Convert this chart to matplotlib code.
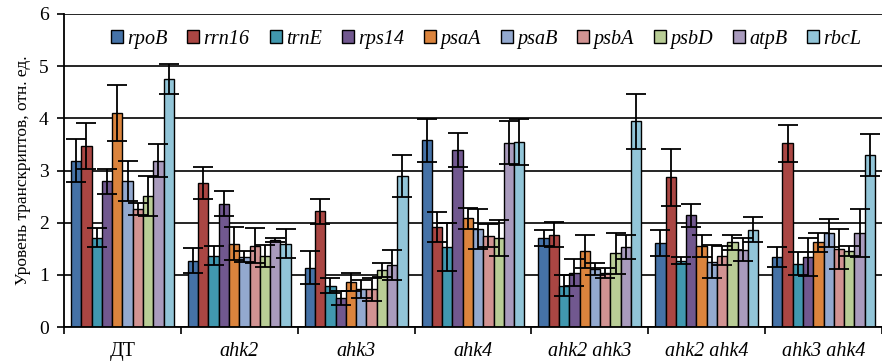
import numpy as np
import matplotlib
matplotlib.use('Agg')
import matplotlib.pyplot as plt
from matplotlib.ticker import FixedLocator

plt.rcParams['font.family'] = ['Liberation Serif', 'DejaVu Serif']

groups = ['ДТ', 'ahk2', 'ahk3', 'ahk4', 'ahk2 ahk3', 'ahk2 ahk4', 'ahk3 ahk4']
genes = ['rpoB', 'rrn16', 'trnE', 'rps14', 'psaA', 'psaB', 'psbA', 'psbD', 'atpB', 'rbcL']
colors = ['#4572A7', '#AA4643', '#4198AF', '#71588F', '#DB843D',
          '#93A9CF', '#D19392', '#B9CD96', '#A99BBD', '#92C5D8']

# mean level per gene (rows) for each line (columns)
rpoB  = [3.19, 1.27, 1.14, 3.58, 1.71, 1.61, 1.34]
rrn16 = [3.47, 2.76, 2.22, 1.92, 1.77, 2.87, 3.52]
trnE  = [1.71, 1.37, 0.79, 1.53, 0.79, 1.27, 1.21]
rps14 = [2.79, 2.36, 0.56, 3.39, 1.04, 2.14, 1.34]
psaA  = [4.10, 1.60, 0.86, 2.08, 1.45, 1.55, 1.62]
psaB  = [2.80, 1.35, 0.73, 1.88, 1.11, 1.25, 1.80]
psbA  = [2.26, 1.56, 0.72, 1.75, 1.04, 1.37, 1.50]
psbD  = [2.51, 1.36, 1.09, 1.71, 1.41, 1.62, 1.46]
atpB  = [3.19, 1.67, 1.19, 3.53, 1.54, 1.48, 1.81]
rbcL  = [4.75, 1.60, 2.89, 3.54, 3.94, 1.86, 3.30]

# standard errors
rpoB_err  = [0.41, 0.24, 0.32, 0.41, 0.15, 0.24, 0.19]
rrn16_err = [0.45, 0.30, 0.24, 0.29, 0.24, 0.55, 0.36]
trnE_err  = [0.18, 0.19, 0.14, 0.46, 0.20, 0.07, 0.22]
rps14_err = [0.24, 0.24, 0.13, 0.33, 0.26, 0.22, 0.36]
psaA_err  = [0.53, 0.31, 0.17, 0.21, 0.31, 0.21, 0.18]
psaB_err  = [0.38, 0.10, 0.17, 0.38, 0.12, 0.32, 0.27]
psbA_err  = [0.12, 0.34, 0.22, 0.22, 0.10, 0.18, 0.38]
psbD_err  = [0.39, 0.21, 0.13, 0.35, 0.39, 0.15, 0.10]
atpB_err  = [0.32, 0.04, 0.29, 0.41, 0.23, 0.22, 0.46]
rbcL_err  = [0.29, 0.28, 0.40, 0.44, 0.52, 0.24, 0.40]

values = [rpoB, rrn16, trnE, rps14, psaA, psaB, psbA, psbD, atpB, rbcL]
errors = [rpoB_err, rrn16_err, trnE_err, rps14_err, psaA_err,
          psaB_err, psbA_err, psbD_err, atpB_err, rbcL_err]

fig = plt.figure(figsize=(8.82, 3.63), dpi=100)
ax = fig.add_axes([64 / 882, 36 / 363, 818 / 882, 313 / 363])

x = np.arange(len(groups))
n = len(genes)
width = 0.088
for i in range(n):
    pos = x + (i - (n - 1) / 2) * width
    ax.bar(pos, values[i], width, color=colors[i], edgecolor='black',
           linewidth=1.0, label=genes[i], zorder=2)
    ax.errorbar(pos, values[i], yerr=errors[i], fmt='none', ecolor='black',
                elinewidth=1.3, capsize=7, capthick=1.3, zorder=3)

ax.set_xlim(-0.5, len(groups) - 0.5)
ax.set_ylim(0, 6)
ax.set_yticks(range(7))
ax.yaxis.grid(True, color='black', linewidth=1.2)
ax.set_axisbelow(True)

ax.set_xticks(x)
ax.set_xticklabels(groups, fontsize=14.5)
for lbl in ax.get_xticklabels()[1:]:
    lbl.set_fontstyle('italic')
ax.tick_params(axis='x', which='major', length=0, pad=11)
ax.xaxis.set_minor_locator(FixedLocator(np.arange(-0.5, len(groups), 1.0)))
ax.tick_params(axis='x', which='minor', length=5, width=1.2, direction='out')
ax.tick_params(axis='y', labelsize=14, length=5, width=1.2, direction='out', pad=6)

for side in ['top', 'right']:
    ax.spines[side].set_visible(False)
for side in ['left', 'bottom']:
    ax.spines[side].set_linewidth(1.3)

ax.set_ylabel('Уровень транскриптов, отн. ед.', fontsize=12.5, labelpad=6)

ax.legend(loc='upper center', bbox_to_anchor=(0.516, 0.995), ncol=n, frameon=False,
          prop={'style': 'italic', 'size': 14.5}, handlelength=0.6, handleheight=0.6,
          handletextpad=0.2, columnspacing=1.0, borderaxespad=0.3)

fig.savefig('out.png', dpi=100)
